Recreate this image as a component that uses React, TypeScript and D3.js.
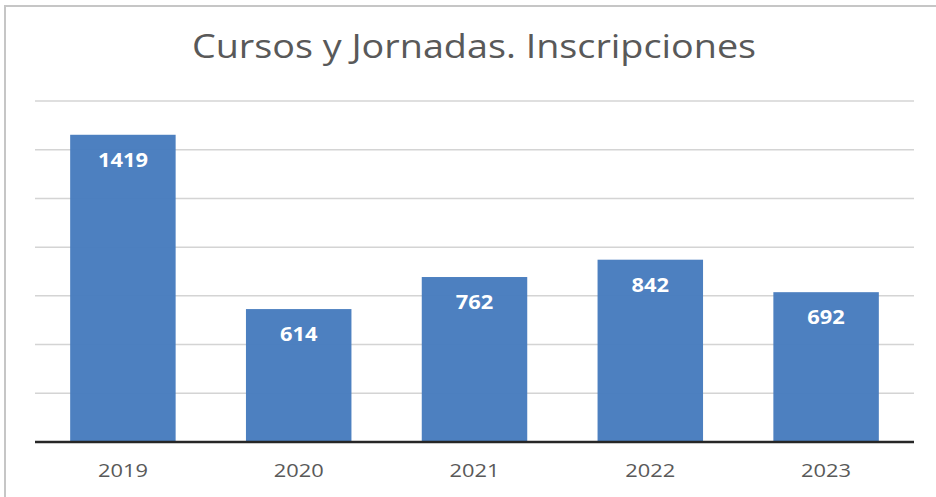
import React, { useEffect, useRef } from "react";
import * as d3 from "d3";

// chart data
const years = ["2019", "2020", "2021", "2022", "2023"];
const inscripciones = [1419, 614, 762, 842, 692];
const gridStep = 225;
const yMax = 1575;
const title = "Cursos y Jornadas. Inscripciones";

const App = () => {
  const ref = useRef<SVGSVGElement | null>(null);

  useEffect(() => {
    const width = 936,
      height = 497;
    const margin = { top: 101, right: 22, bottom: 55, left: 35 };
    const innerW = width - margin.left - margin.right;
    const innerH = height - margin.top - margin.bottom;
    // the reference text looks a bit wider than Open Sans
    const stretch = 1.15;

    const svg = d3.select(ref.current);
    svg.selectAll("*").remove();
    svg.attr("width", width).attr("height", height);

    // background and frame (only top and left edges visible)
    svg.append("rect").attr("width", width).attr("height", height).attr("fill", "#fff");
    svg
      .append("path")
      .attr("d", `M5,${height} V6 H${width}`)
      .attr("fill", "none")
      .attr("stroke", "#c6c6c6")
      .attr("stroke-width", 2);

    // title
    svg
      .append("text")
      .attr("transform", `translate(474,58) scale(1.18,1)`)
      .attr("text-anchor", "middle")
      .style("font-family", "'Open Sans', sans-serif")
      .style("font-size", "32px")
      .attr("fill", "#595959")
      .text(title);

    const g = svg.append("g").attr("transform", `translate(${margin.left},${margin.top})`);

    const x = d3.scaleBand().domain(years).range([0, innerW]).paddingInner(0.4).paddingOuter(0.2);
    const y = d3.scaleLinear().domain([0, yMax]).range([innerH, 0]);

    // gridlines
    const ticks = d3.range(gridStep, yMax + 1, gridStep);
    g.selectAll(".grid")
      .data(ticks)
      .enter()
      .append("line")
      .attr("x1", 0)
      .attr("x2", innerW)
      .attr("y1", (d) => y(d))
      .attr("y2", (d) => y(d))
      .attr("stroke", "#d4d4d4")
      .attr("stroke-width", 1.5);

    // bars
    g.selectAll(".bar")
      .data(inscripciones)
      .enter()
      .append("rect")
      .attr("x", (d, i) => x(years[i]) as number)
      .attr("y", (d) => y(d))
      .attr("width", x.bandwidth())
      .attr("height", (d) => innerH - y(d))
      .attr("fill", "#467bbd")
      .attr("fill-opacity", 0.96);

    // value labels inside bars
    g.selectAll(".label")
      .data(inscripciones)
      .enter()
      .append("text")
      .attr(
        "transform",
        (d, i) => `translate(${(x(years[i]) as number) + x.bandwidth() / 2},${y(d) + 32}) scale(${stretch},1)`
      )
      .attr("text-anchor", "middle")
      .style("font-family", "'Open Sans', sans-serif")
      .style("font-size", "19px")
      .style("font-weight", "bold")
      .attr("fill", "#fff")
      .text((d) => d);

    // baseline
    g.append("line")
      .attr("x1", 0)
      .attr("x2", innerW)
      .attr("y1", innerH)
      .attr("y2", innerH)
      .attr("stroke", "#262626")
      .attr("stroke-width", 2.5);

    // x axis labels
    g.selectAll(".xlabel")
      .data(years)
      .enter()
      .append("text")
      .attr(
        "transform",
        (d) => `translate(${(x(d) as number) + x.bandwidth() / 2},${innerH + 35}) scale(${stretch},1)`
      )
      .attr("text-anchor", "middle")
      .style("font-family", "'Open Sans', sans-serif")
      .style("font-size", "19px")
      .attr("fill", "#595959")
      .text((d) => d);
  }, []);

  return (
    <div style={{ position: "absolute", left: 0, top: 0 }}>
      <svg ref={ref} style={{ display: "block" }}></svg>
    </div>
  );
};

export default App;
